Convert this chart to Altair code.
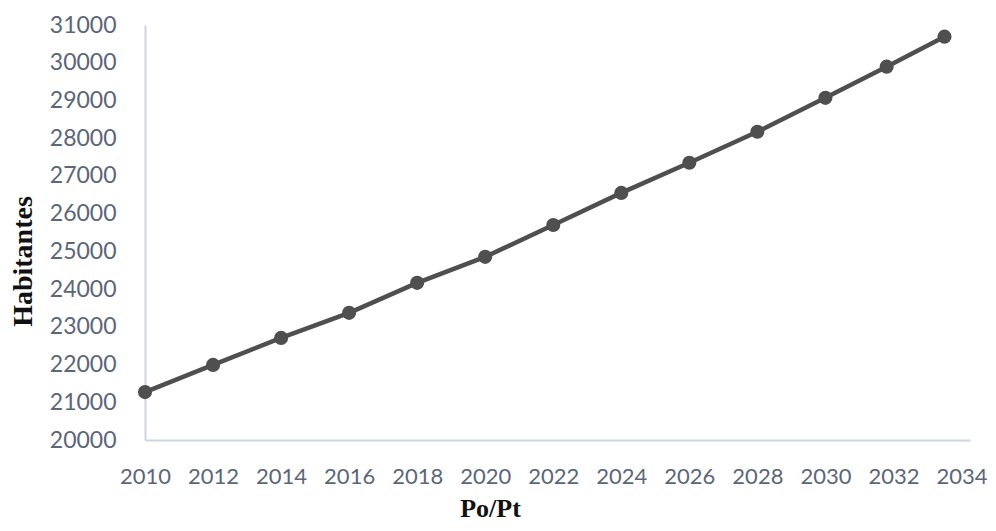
import altair as alt
import pandas as pd

years = [2010, 2012, 2014, 2016, 2018, 2020, 2022, 2024, 2026, 2028, 2030, 2031.8, 2033.5]
habitantes = [21270, 21990, 22705, 23370, 24165, 24855, 25700, 26550, 27350, 28170, 29070, 29895, 30690]
x_ticks = [2010, 2012, 2014, 2016, 2018, 2020, 2022, 2024, 2026, 2028, 2030, 2032, 2034]
y_ticks = [20000, 21000, 22000, 23000, 24000, 25000, 26000, 27000, 28000, 29000, 30000, 31000]

df = pd.DataFrame({"year": years, "hab": habitantes})

line_color = "#4f4f4f"
label_color = "#5b6679"
axis_color = "#cdd4df"

x = alt.X(
    "year:Q",
    scale=alt.Scale(domain=[2010, 2034.25], nice=False, zero=False),
    axis=alt.Axis(
        values=x_ticks, format="d", title="Po/Pt", grid=False, ticks=False,
        domainColor=axis_color, domainWidth=2,
        labelFont="Lato", labelFontSize=22, labelColor=label_color, labelPadding=26,
        labelFlush=False,
        titleFont="Liberation Serif", titleFontWeight="bold", titleFontSize=26,
        titleColor="#111111", titleX=345, titleY=76, titleBaseline="alphabetic",
        titleAnchor="start", titleAlign="center",
    ),
)
y = alt.Y(
    "hab:Q",
    scale=alt.Scale(domain=[20000, 31000], nice=False, zero=False),
    axis=alt.Axis(
        values=y_ticks, format="d", title="Habitantes", grid=False, ticks=False,
        domainColor=axis_color, domainWidth=2,
        labelFont="Lato", labelFontSize=23, labelColor=label_color, labelPadding=29,
        labelFlush=False,
        titleFont="Liberation Serif", titleFontWeight="bold", titleFontSize=28,
        titleColor="#111111", titleX=-122, titleY=236, titleBaseline="middle",
        titleAngle=270, titleAlign="center", titleAnchor="start",
    ),
)

line = alt.Chart(df).mark_line(color=line_color, strokeWidth=4.5).encode(x=x, y=y)
points = alt.Chart(df).mark_point(filled=True, color=line_color, size=200, opacity=1).encode(x=x, y=y)

chart = (
    (line + points)
    .properties(
        width=825,
        height=415,
        background="white",
        autosize=alt.AutoSizeParams(type="none"),
        padding={"left": 137, "top": 17, "right": 18, "bottom": 83},
    )
    .configure_view(stroke="transparent", strokeWidth=0)
)

chart.save("out.html", embed_options={"renderer": "svg", "actions": False})
